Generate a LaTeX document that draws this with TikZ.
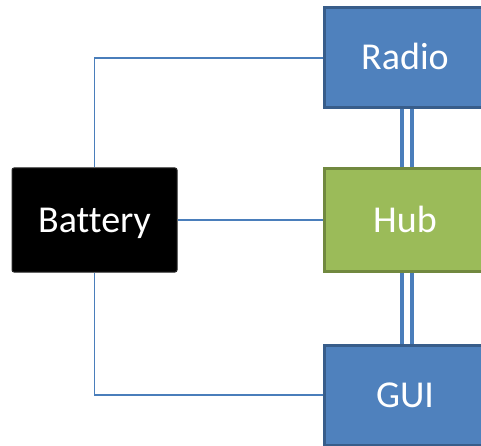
\documentclass[tikz,border=0pt]{standalone}
\usepackage{fontspec}
\setmainfont{Carlito}[Ligatures=NoCommon]
\usepackage{tikz}
\usetikzlibrary{positioning,calc}
\definecolor{offblue}{HTML}{4F81BD}
\definecolor{offblueb}{HTML}{385D8A}
\definecolor{offgreen}{HTML}{9BBB59}
\definecolor{offgreenb}{HTML}{71893F}
\definecolor{linkblue}{HTML}{4A7EBB}
\tikzset{
  ubox/.style  = {draw=offblueb, fill=offblue, line width=3pt, text=white,
                  minimum width=162pt, minimum height=100pt, inner sep=0pt,
                  text height=24pt, text depth=0pt,
                  font=\fontsize{38}{40}\selectfont},
  hbox/.style  = {ubox, draw=offgreenb, fill=offgreen, minimum height=102pt},
  pbox/.style  = {draw=black!85, fill=black, rounded corners=2pt, text=white,
                  line width=1pt, minimum width=165pt, minimum height=104pt,
                  inner sep=0pt, text height=24pt, text depth=0pt,
                  font=\fontsize{38}{40}\selectfont},
  pwire/.style = {draw=linkblue, line width=1.6pt},
  bus/.style   = {draw=linkblue, line width=4pt, double=white,
                  double distance=6pt},
}
\begin{document}
\begin{tikzpicture}[x=1pt,y=-1pt]
  \useasboundingbox (0,0) rectangle (481,446);
  % units
  \node[ubox] (radio) at (405,58) {Radio};
  \node[hbox] (hub) at (405,220) {Hub};
  \node[ubox] (gui) at (405,395) {GUI};
  \node[pbox] (batt) at (94.5,220) {Battery};
  % data links
  \draw[bus] ([xshift=2pt]radio.south) -- ([xshift=2pt]hub.north);
  \draw[bus] ([xshift=2pt]hub.south) -- ([xshift=2pt]gui.north);
  % power
  \draw[pwire] (batt.north) |- (radio.west);
  \draw[pwire] (batt.east) -- (hub.west);
  \draw[pwire] (batt.south) |- (gui.west);
\end{tikzpicture}
\end{document}
